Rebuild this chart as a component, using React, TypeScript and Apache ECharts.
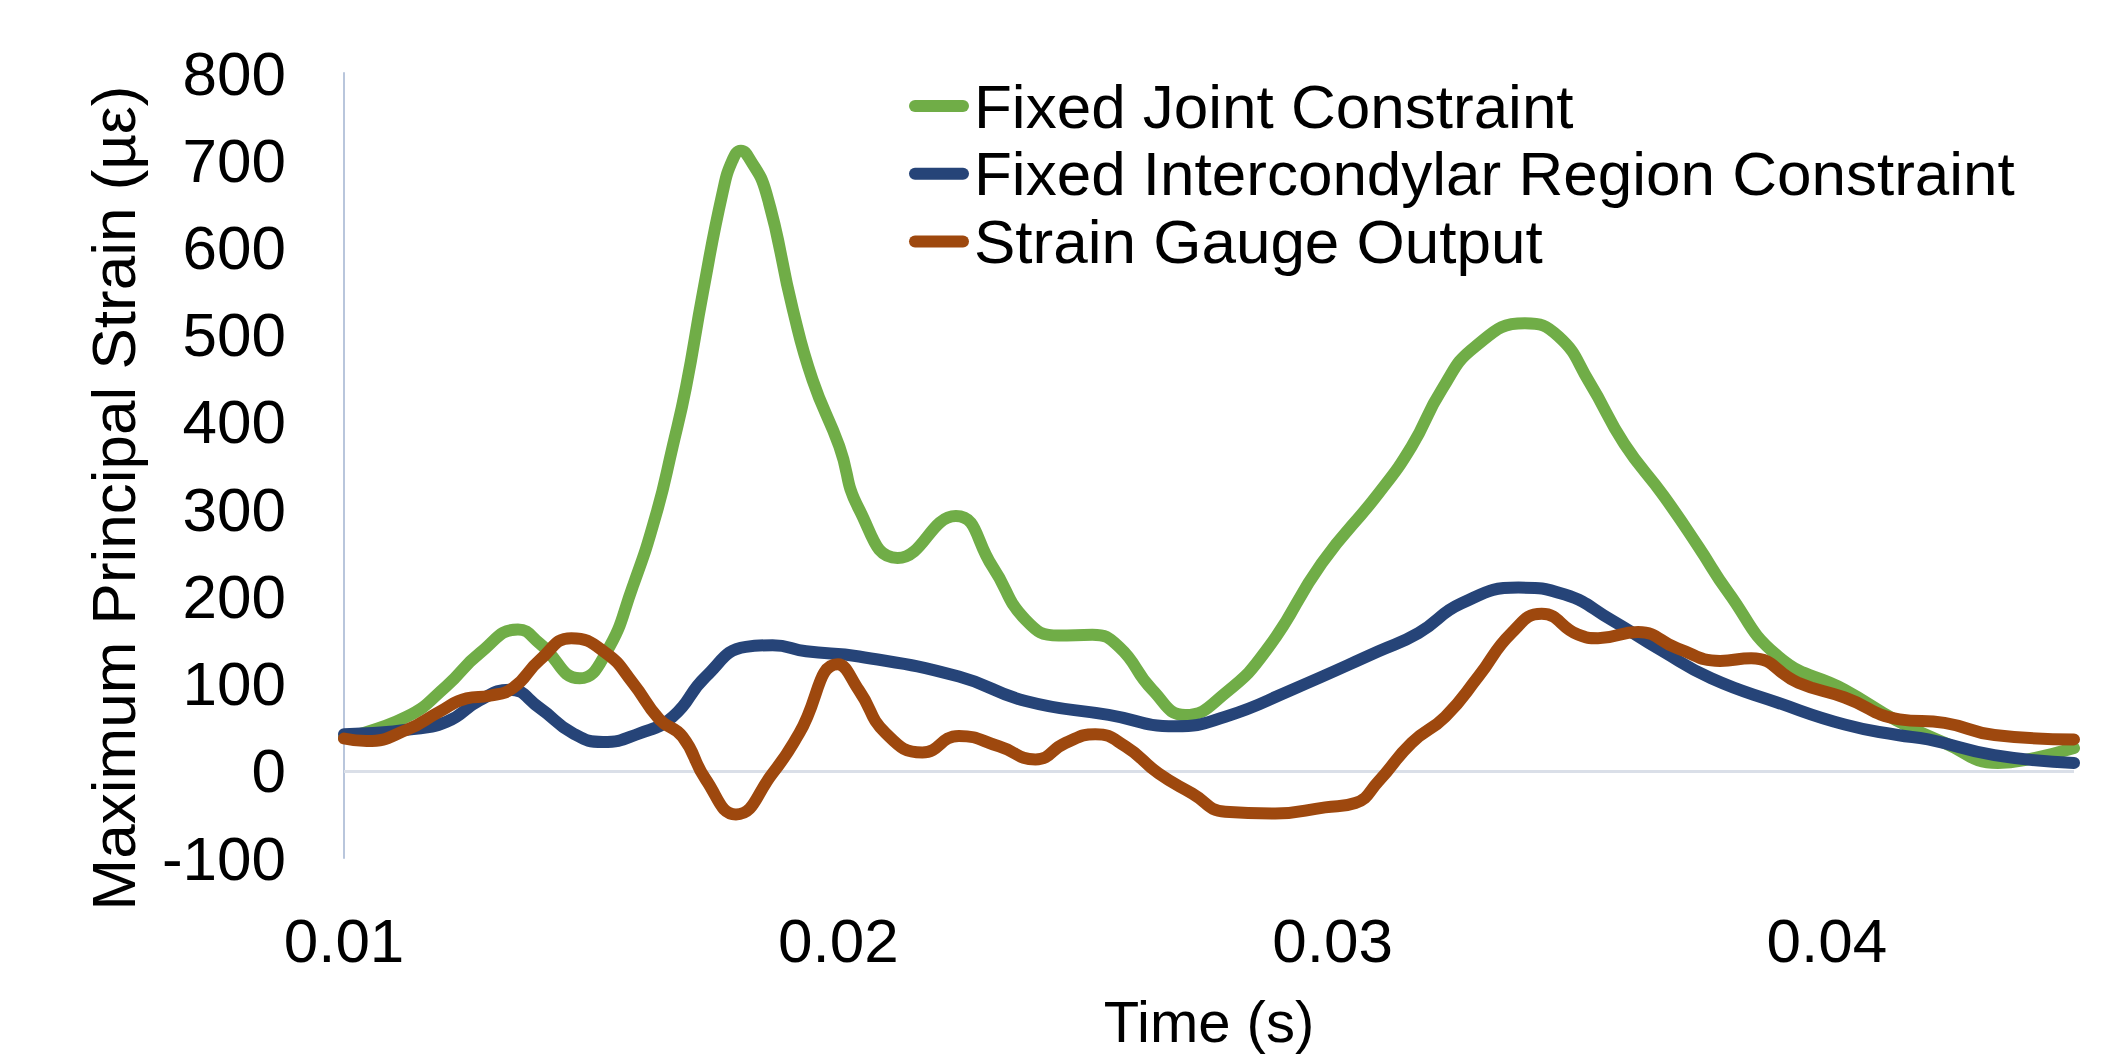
import React, { useEffect, useRef } from "react";
import * as echarts from "echarts";

// ---- Data (time in s, strain in µε) ----
const seriesNames = [
  "Fixed Joint Constraint",
  "Fixed Intercondylar Region Constraint",
  "Strain Gauge Output",
];

const fixedJointTime = [
  0.01, 0.01127, 0.01207, 0.01275, 0.01352, 0.01396, 0.01477, 0.0153, 0.01584, 0.01632,
  0.01665, 0.01692, 0.01726, 0.01766, 0.01786, 0.01803, 0.0182, 0.01854, 0.01908, 0.01948,
  0.02002, 0.02042, 0.0212, 0.02238, 0.02312, 0.02379, 0.02446, 0.02514, 0.02568, 0.02635,
  0.02702, 0.02783, 0.02871, 0.02978, 0.03093, 0.0316, 0.03221, 0.03288, 0.03389, 0.03457,
  0.0352, 0.0359, 0.0367, 0.0374, 0.038, 0.03902, 0.04036, 0.0414, 0.04238, 0.04346,
  0.04407, 0.045,
];
const fixedJointStrain = [
  38, 62, 97, 135, 162, 146, 106, 135, 211, 295,
  372, 440, 548, 663, 700, 711, 702, 663, 529, 448,
  372, 300, 244, 292, 234, 173, 155, 156, 142, 93,
  64, 89, 142, 238, 318, 372, 437, 486, 513, 498,
  445, 375, 315, 257, 205, 131, 93, 58, 32, 9,
  13, 26,
];

const intercondylarTime = [
  0.01, 0.01046, 0.01127, 0.01207, 0.01275, 0.01335, 0.01396, 0.01463, 0.01524, 0.01598,
  0.01665, 0.01732, 0.01813, 0.01867, 0.01935, 0.02042, 0.02244, 0.02379, 0.02547, 0.02682,
  0.02783, 0.02918, 0.03093, 0.03174, 0.03261, 0.03376, 0.0347, 0.03564, 0.03665, 0.03766,
  0.03901, 0.04036, 0.04143, 0.04205, 0.04339, 0.045,
];
const intercondylarStrain = [
  42, 43, 47, 56, 81, 93, 72, 43, 33, 43,
  62, 108, 142, 144, 137, 131, 108, 80, 64, 51,
  62, 93, 137, 158, 192, 210, 202, 173, 138, 106,
  78, 53, 41, 36, 18, 9,
];

const gaugeTime = [
  0.01, 0.01046, 0.01127, 0.01194, 0.01248, 0.01295, 0.01342, 0.01396, 0.0146, 0.0153,
  0.01584, 0.01638, 0.01685, 0.01732, 0.01793, 0.01867, 0.01921, 0.01999, 0.02042, 0.02096,
  0.0217, 0.02244, 0.02325, 0.02399, 0.0246, 0.0252, 0.02581, 0.02648, 0.02716, 0.02783,
  0.02884, 0.02985, 0.03046, 0.03093, 0.0316, 0.03228, 0.03295, 0.03362, 0.03423, 0.03497,
  0.03537, 0.03618, 0.03699, 0.03784, 0.03847, 0.03942, 0.04036, 0.04147, 0.04238, 0.04339,
  0.045,
];
const gaugeStrain = [
  37, 34, 47, 68, 83, 86, 95, 127, 152, 135,
  101, 59, 39, -10, -50, -3, 43, 122, 92, 43,
  21, 40, 28, 13, 32, 42, 28, -3, -26, -47,
  -49, -42, -37, -12, 32, 62, 108, 158, 180, 156,
  152, 159, 140, 126, 129, 101, 84, 59, 55, 41,
  36,
];

const xMin = 0.01;
const xMax = 0.045;
const xInterval = 0.01;
const yMin = -100;
const yMax = 800;
const yInterval = 100;

const colors = ["#70AD47", "#264478", "#9E480E"];
const FONT = "'Liberation Sans', Arial, sans-serif";

const zip = (t: number[], v: number[]) => t.map((x, i) => [x, v[i]]);

export default function App() {
  const ref = useRef<HTMLDivElement>(null);

  useEffect(() => {
    if (!ref.current) return;
    const chart = echarts.init(ref.current, undefined, { renderer: "svg" });
    const lineSeries = (name: string, data: number[][], color: string, extra: any = {}) => ({
      name,
      type: "line",
      data,
      smooth: 0.5,
      symbol: "none",
      showSymbol: false,
      lineStyle: { width: 12, color, cap: "round", join: "round" },
      itemStyle: { color },
      emphasis: { disabled: true },
      ...extra,
    });

    chart.setOption({
      animation: false,
      backgroundColor: "#ffffff",
      textStyle: { fontFamily: FONT },
      grid: { left: 344, right: 43, top: 73, bottom: 201, containLabel: false },
      legend: {
        orient: "vertical",
        left: 909,
        top: 75,
        padding: 0,
        itemGap: 5.7,
        itemWidth: 60,
        itemHeight: 12,
        icon: "path://M6,0 L54,0 A6,6 0 0 1 54,12 L6,12 A6,6 0 0 1 6,0 Z",
        textStyle: { fontSize: 62, lineHeight: 62, color: "#000", fontFamily: FONT },
        data: seriesNames,
        selectedMode: false,
      },
      xAxis: {
        type: "value",
        min: xMin,
        max: xMax,
        interval: xInterval,
        axisLine: { show: false },
        axisTick: { show: false },
        splitLine: { show: false },
        axisLabel: {
          fontSize: 62,
          color: "#000",
          margin: 51,
          fontFamily: FONT,
          formatter: (v: number) =>
            Math.abs(v * 100 - Math.round(v * 100)) < 1e-6 ? String(Math.round(v * 100) / 100) : "",
        },
        name: "Time (s)",
        nameLocation: "middle",
        nameGap: 134,
        nameTextStyle: { fontSize: 58, color: "#000", fontFamily: FONT },
      },
      yAxis: {
        type: "value",
        min: yMin,
        max: yMax,
        interval: yInterval,
        axisLine: { show: true, lineStyle: { color: "#B9C6DC", width: 2 } },
        axisTick: { show: false },
        splitLine: { show: false },
        axisLabel: { fontSize: 62, color: "#000", margin: 58, fontFamily: FONT },
        name: "Maximum Principal Strain (µε)",
        nameLocation: "middle",
        nameGap: 200,
        nameTextStyle: { fontSize: 62, color: "#000", fontFamily: FONT, padding: [0, 65, 0, 0] },
      },
      series: [
        lineSeries(seriesNames[0], zip(fixedJointTime, fixedJointStrain), colors[0], {
          markLine: {
            silent: true,
            z: 1,
            symbol: ["none", "none"],
            label: { show: false },
            lineStyle: { color: "#DADFE8", width: 3, type: "solid" },
            data: [{ yAxis: 0 }],
          },
        }),
        lineSeries(seriesNames[1], zip(intercondylarTime, intercondylarStrain), colors[1]),
        lineSeries(seriesNames[2], zip(gaugeTime, gaugeStrain), colors[2]),
      ],
    });

    return () => chart.dispose();
  }, []);

  return (
    <div
      ref={ref}
      style={{ position: "fixed", left: 0, top: 0, width: "2117px", height: "1059px", background: "#fff" }}
    />
  );
}
